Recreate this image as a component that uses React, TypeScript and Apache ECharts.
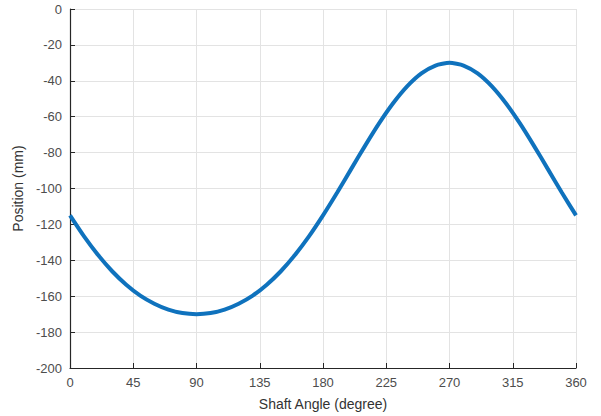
import React, { useEffect, useRef } from "react";
import * as echarts from "echarts";

const angles = [0, 10, 20, 30, 40, 50, 60, 70, 80, 90, 100, 110, 120, 130, 140, 150, 160, 170, 180,
  190, 200, 210, 220, 230, 240, 250, 260, 270, 280, 290, 300, 310, 320, 330, 340, 350, 360];
const positions = [-115.0, -126.7, -137.1, -146.1, -153.6, -159.7, -164.2, -167.5, -169.4, -170.0,
  -169.4, -167.5, -164.2, -159.7, -153.6, -146.1, -137.1, -126.7, -115.0,
  -102.4, -89.2, -76.1, -63.6, -52.4, -43.0, -35.9, -31.5, -30.0,
  -31.5, -35.9, -43.0, -52.4, -63.6, -76.1, -89.2, -102.4, -115.0];
const xTicks = [0, 45, 90, 135, 180, 225, 270, 315, 360];
const yTicks = [0, -20, -40, -60, -80, -100, -120, -140, -160, -180, -200];

export default function App() {
  const ref = useRef<HTMLDivElement>(null);
  useEffect(() => {
    if (!ref.current) return;
    const chart = echarts.init(ref.current, null, { renderer: "svg" });
    const font = "Liberation Sans, Arial, Helvetica, sans-serif";
    chart.setOption({
      animation: false,
      backgroundColor: "#ffffff",
      grid: { left: 70, right: 25, top: 9, bottom: 48, containLabel: false },
      xAxis: {
        type: "value",
        min: 0,
        max: 360,
        interval: 45,
        name: "Shaft Angle (degree)",
        nameLocation: "middle",
        nameGap: 29,
        nameTextStyle: { color: "#333333", fontSize: 14, fontFamily: font },
        axisLine: { show: true, onZero: false, lineStyle: { color: "#262626", width: 1.2 } },
        axisTick: { show: true, inside: true, length: 5, lineStyle: { color: "#262626" } },
        axisLabel: {
          color: "#4d4d4d", fontSize: 13, fontFamily: font, margin: 8,
          formatter: (v: number) => (xTicks.includes(v) ? String(v) : ""),
        },
        splitLine: { show: true, lineStyle: { color: "#e3e3e3", width: 1 } },
      },
      yAxis: {
        type: "value",
        min: -200,
        max: 0,
        interval: 20,
        name: "Position (mm)",
        nameLocation: "middle",
        nameGap: 42,
        nameTextStyle: { color: "#333333", fontSize: 14, fontFamily: font },
        axisLine: { show: true, onZero: false, lineStyle: { color: "#262626", width: 1.2 } },
        axisTick: { show: true, inside: true, length: 5, lineStyle: { color: "#262626" } },
        axisLabel: {
          color: "#4d4d4d", fontSize: 13, fontFamily: font, margin: 8,
          formatter: (v: number) => (yTicks.includes(v) ? String(v) : ""),
        },
        splitLine: { show: true, lineStyle: { color: "#e3e3e3", width: 1 } },
      },
      series: [
        {
          type: "line",
          data: angles.map((a, i) => [a, positions[i]]),
          showSymbol: false,
          smooth: 0.2,
          lineStyle: { color: "#0f72bd", width: 4 },
          itemStyle: { color: "#0f72bd" },
        },
      ],
    });
    return () => chart.dispose();
  }, []);
  return <div ref={ref} style={{ width: 601, height: 416, position: "absolute", left: 0, top: 0 }} />;
}
